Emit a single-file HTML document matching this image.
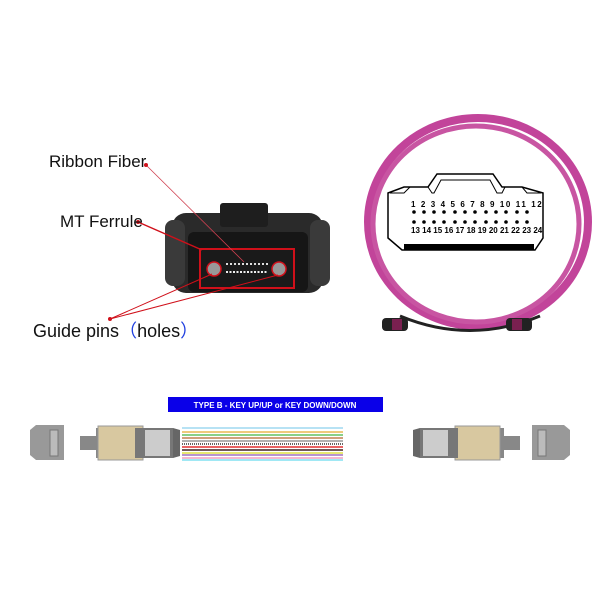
<!DOCTYPE html>
<html><head><style>body{margin:0;background:#fff}svg{display:block}</style></head><body>
<svg width="600" height="600" xmlns="http://www.w3.org/2000/svg" font-family="Liberation Sans, sans-serif">
<rect width="600" height="600" fill="#fff"/>
<rect x="172" y="213" width="151" height="80" rx="14" fill="#2a2a2a"/>
<rect x="165" y="220" width="20" height="66" rx="8" fill="#3a3a3a"/>
<rect x="310" y="220" width="20" height="66" rx="8" fill="#3a3a3a"/>
<rect x="220" y="203" width="48" height="24" rx="3" fill="#1e1e1e"/>
<rect x="188" y="232" width="120" height="60" rx="6" fill="#161616"/>
<rect x="200" y="249" width="94" height="39" fill="#1a1a1a" stroke="#d0101a" stroke-width="2"/>
<line x1="226" y1="264" x2="268" y2="264" stroke="#ddd" stroke-width="2" stroke-dasharray="2,2"/>
<line x1="226" y1="272" x2="268" y2="272" stroke="#eee" stroke-width="2" stroke-dasharray="2,1.5"/>
<circle cx="214" cy="269" r="7" fill="#999" stroke="#d0101a" stroke-width="1.5"/>
<circle cx="279" cy="269" r="7" fill="#999" stroke="#d0101a" stroke-width="1.5"/>
<line x1="146" y1="165" x2="244" y2="262" stroke="#d04050" stroke-width="0.8"/>
<line x1="138" y1="222" x2="202" y2="250" stroke="#d0101a" stroke-width="1.5"/>
<line x1="110" y1="319" x2="212" y2="274" stroke="#d0101a" stroke-width="1"/>
<line x1="110" y1="319" x2="278" y2="275" stroke="#d0101a" stroke-width="1"/>
<circle cx="110" cy="319" r="2" fill="#d0101a"/><circle cx="138" cy="222" r="2" fill="#d0101a"/><circle cx="146" cy="165" r="2" fill="#d0101a"/>
<text x="49" y="167" font-size="17" fill="#111">Ribbon Fiber</text>
<text x="60" y="227" font-size="17" fill="#111">MT Ferrule</text>
<text x="33" y="337" font-size="18" fill="#111">Guide pins<tspan fill="#2040e0" font-family="Noto Sans CJK SC, sans-serif">（</tspan>holes<tspan fill="#2040e0" font-family="Noto Sans CJK SC, sans-serif">）</tspan></text>
<ellipse cx="478" cy="222" rx="110" ry="104" fill="none" stroke="#c2449a" stroke-width="8"/>
<ellipse cx="476" cy="224" rx="103" ry="98" fill="none" stroke="#c855a2" stroke-width="5"/>
<path d="M400 316 Q470 345 540 316" fill="none" stroke="#222" stroke-width="3"/>
<rect x="382" y="318" width="26" height="13" rx="4" fill="#222"/><rect x="392" y="319" width="10" height="11" fill="#7a2050"/>
<rect x="506" y="318" width="26" height="13" rx="4" fill="#222"/><rect x="512" y="319" width="10" height="11" fill="#7a2050"/>
<path d="M388 193 L404 187 L428 187 L437 174 L493 174 L502 187 L522 187 L543 193 L543 238 L535 250 L402 250 L388 238 Z" fill="#fff" stroke="#000" stroke-width="1.5"/>
<path d="M390 193 L404 193 L410 187 M428 187 L432 193 L434 193 L441 180 L490 180 L497 193 L502 193 L505 187 M522 187 L527 193 L541 193" fill="none" stroke="#000" stroke-width="1"/>
<rect x="404" y="244" width="130" height="6" fill="#000"/>
<g font-size="8" font-weight="bold" fill="#000">
<text x="411" y="207" letter-spacing="1.6">1 2 3 4 5 6 7 8 9 10 11 12</text>
<text x="411" y="233" letter-spacing="0">13 14 15 16 17 18 19 20 21 22 23 24</text>
</g>
<g fill="#000">
<g id="r"><circle cx="414" cy="212" r="1.8"/><circle cx="424" cy="212" r="1.8"/><circle cx="434" cy="212" r="1.8"/><circle cx="444" cy="212" r="1.8"/><circle cx="455" cy="212" r="1.8"/><circle cx="465" cy="212" r="1.8"/><circle cx="475" cy="212" r="1.8"/><circle cx="486" cy="212" r="1.8"/><circle cx="496" cy="212" r="1.8"/><circle cx="506" cy="212" r="1.8"/><circle cx="517" cy="212" r="1.8"/><circle cx="527" cy="212" r="1.8"/></g>
<use href="#r" y="10"/>
</g>
<rect x="168" y="397" width="215" height="15" fill="#0a00e8"/>
<text x="275" y="408" font-size="8" font-weight="bold" fill="#fff" text-anchor="middle">TYPE B - KEY UP/UP or KEY DOWN/DOWN</text>
<g stroke-width="1.6">
<line x1="182" y1="428" x2="343" y2="428" stroke="#9fd8f0"/><line x1="182" y1="432" x2="343" y2="432" stroke="#e8b850"/>
<line x1="182" y1="435" x2="343" y2="435" stroke="#60c060"/><line x1="182" y1="438" x2="343" y2="438" stroke="#c08050"/>
<line x1="182" y1="441" x2="343" y2="441" stroke="#999"/><line x1="182" y1="444" x2="343" y2="444" stroke="#333" stroke-dasharray="1,1"/>
<line x1="182" y1="447" x2="343" y2="447" stroke="#e03030"/><line x1="182" y1="450" x2="343" y2="450" stroke="#402020"/>
<line x1="182" y1="453" x2="343" y2="453" stroke="#e0e040"/><line x1="182" y1="455" x2="343" y2="455" stroke="#a070c0"/>
<line x1="182" y1="458" x2="343" y2="458" stroke="#f0a0c0"/><line x1="182" y1="460" x2="343" y2="460" stroke="#80e0f0"/>
</g>
<path d="M30 430 L36 425 L64 425 L64 460 L36 460 L30 455 Z" fill="#999"/>
<rect x="50" y="430" width="8" height="26" fill="#bbb" stroke="#777"/>
<rect x="80" y="436" width="18" height="14" fill="#888"/>
<rect x="96" y="428" width="40" height="30" fill="#888"/>
<rect x="98" y="426" width="45" height="34" fill="#d8c8a0" stroke="#999"/>
<rect x="135" y="428" width="38" height="30" fill="#777"/>
<rect x="145" y="430" width="25" height="26" fill="#ccc"/>
<path d="M173 428 L180 430 L180 456 L173 458 Z" fill="#666"/>
<path d="M570 430 L564 425 L532 425 L532 460 L564 460 L570 455 Z" fill="#999"/>
<rect x="538" y="430" width="8" height="26" fill="#bbb" stroke="#777"/>
<rect x="502" y="436" width="18" height="14" fill="#888"/>
<rect x="464" y="428" width="40" height="30" fill="#888"/>
<rect x="455" y="426" width="45" height="34" fill="#d8c8a0" stroke="#999"/>
<rect x="420" y="428" width="38" height="30" fill="#777"/>
<rect x="423" y="430" width="25" height="26" fill="#ccc"/>
<path d="M420 428 L413 430 L413 456 L420 458 Z" fill="#666"/>
</svg>
</body></html>
